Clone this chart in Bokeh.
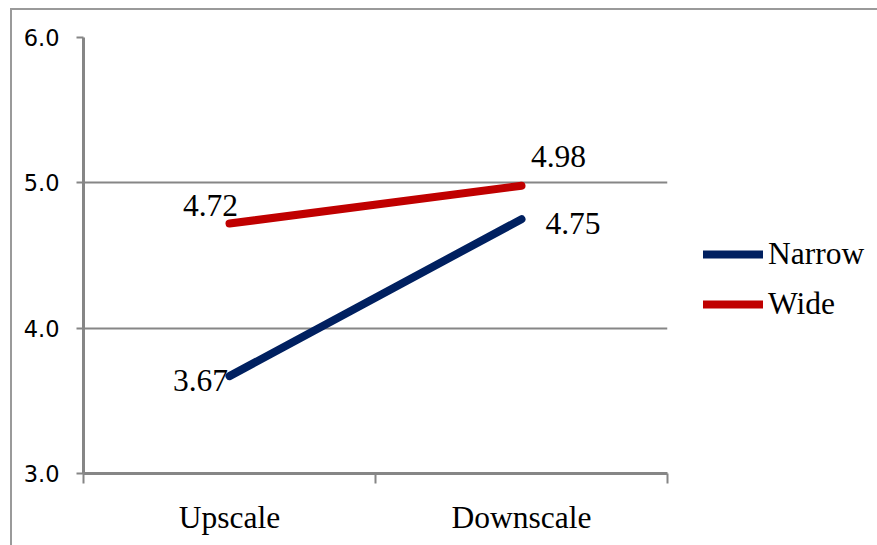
from bokeh.plotting import figure
from bokeh.models import (Range1d, FixedTicker, Legend, LegendItem,
                          ColumnDataSource, CustomJSTickFormatter)
from bokeh.core.properties import value
from bokeh.embed import file_html
from bokeh.resources import INLINE

# Chart data
categories = ["Upscale", "Downscale"]
narrow = [3.67, 4.75]
wide = [4.72, 4.98]
y_ticks = [3.0, 4.0, 5.0, 6.0]

NAVY = "#002060"
RED = "#C00000"
GRID = "#868686"
SERIF = "Liberation Serif"

xs = [i + 0.5 for i in range(len(categories))]

p = figure(frame_width=584, frame_height=436, output_backend="svg", toolbar_location=None,
           x_range=Range1d(0, len(categories)), y_range=Range1d(3, 6),
           min_border_left=83, min_border_right=210, min_border_top=37,
           min_border_bottom=72)
p.outline_line_color = None
p.background_fill_color = "white"
p.border_fill_alpha = 0
# chart-area border drawn around the canvas (left, top and right edges)
p.styles = {
    "background-color": "white",
    "box-shadow": ("inset 10px 8px 0 0 white, inset 12px 10px 0 0 #9a9a9a, "
                   "inset -2px 0 0 0 #9a9a9a"),
}

# x axis: category labels at the centres, minor ticks at the category boundaries
p.xaxis.ticker = FixedTicker(ticks=xs, minor_ticks=list(range(len(categories) + 1)))
p.xaxis.major_label_overrides = {x: c for x, c in zip(xs, categories)}
p.xaxis.major_tick_line_color = None
p.xaxis.minor_tick_in = 0
p.xaxis.minor_tick_out = 10
p.xaxis.minor_tick_line_color = GRID
p.xaxis.minor_tick_line_width = 2
p.xaxis.axis_line_color = GRID
p.xaxis.axis_line_width = 3
p.xaxis.major_label_text_font = SERIF
p.xaxis.major_label_text_font_size = "31.5px"
p.xaxis.major_label_text_color = "black"
p.xaxis.major_label_standoff = 16
p.xgrid.visible = False

# y axis
p.yaxis.ticker = FixedTicker(ticks=y_ticks, minor_ticks=[])
p.yaxis.formatter = CustomJSTickFormatter(code="return tick.toFixed(1);")
p.yaxis.major_tick_in = 0
p.yaxis.major_tick_out = 7
p.yaxis.major_tick_line_color = GRID
p.yaxis.major_tick_line_width = 2
p.yaxis.axis_line_color = GRID
p.yaxis.axis_line_width = 3
p.yaxis.major_label_text_font = "DejaVu Sans"
p.yaxis.major_label_text_font_size = "22.5px"
p.yaxis.major_label_text_color = "black"
p.yaxis.major_label_standoff = 17
p.ygrid.ticker = FixedTicker(ticks=y_ticks)
p.ygrid.grid_line_color = GRID
p.ygrid.grid_line_width = 2

# series lines
r_narrow = p.line(xs, narrow, line_color=NAVY, line_width=8, line_cap="round")
r_wide = p.line(xs, wide, line_color=RED, line_width=8, line_cap="round")

# value labels, offsets in screen pixels
lab = ColumnDataSource(dict(
    x=xs + xs,
    y=narrow + wide,
    text=[f"{v:.2f}" for v in narrow + wide],
    dx=[-1.5, 51.5, -19, 37],
    dy=[4, 4, -18.5, -29],
    align=["right", "center", "center", "center"],
))
p.text(x="x", y="y", text="text", source=lab, x_offset="dx", y_offset="dy",
       text_align="align", text_baseline="alphabetic",
       text_font=value(SERIF), text_font_size="31.5px", text_color="black")

legend = Legend(items=[LegendItem(label="Narrow", renderers=[r_narrow]),
                       LegendItem(label="Wide", renderers=[r_wide])],
                location=(36, 149), orientation="vertical",
                glyph_width=60, glyph_height=40, label_height=40,
                label_standoff=5, spacing=10, padding=0, margin=0,
                border_line_color=None, background_fill_alpha=0,
                label_text_font=SERIF, label_text_font_size="31.5px",
                label_text_color="black")
p.add_layout(legend, "right")

open("out.html", "w").write(file_html(p, INLINE))
